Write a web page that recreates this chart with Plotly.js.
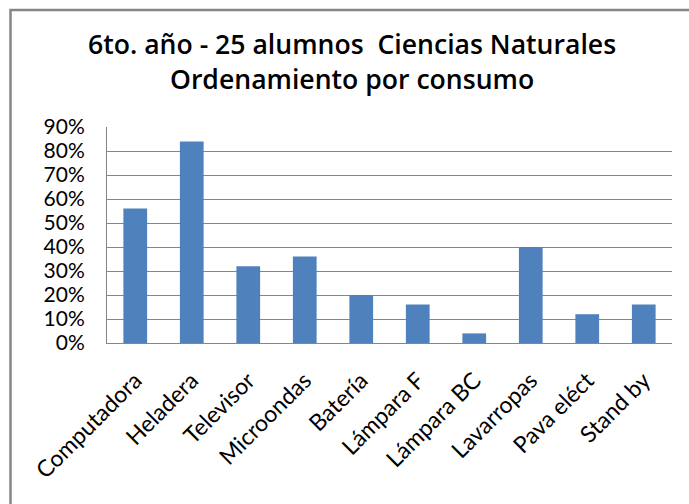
<!DOCTYPE html>
<html>
<head>
<meta charset="utf-8">
<script src="https://cdn.plot.ly/plotly-3.0.1.min.js"></script>
<style>html,body{margin:0;padding:0;background:#fff;}#chart{width:689px;height:504px;}</style>
</head>
<body>
<div id="chart"></div>
<script>
const categories = ["Computadora", "Heladera", "Televisor", "Microondas", "Batería", "Lámpara F", "Lámpara BC", "Lavarropas", "Pava eléct", "Stand by"];
const values = [0.56, 0.84, 0.32, 0.36, 0.20, 0.16, 0.04, 0.40, 0.12, 0.16];
const yTickVals = [0, 0.1, 0.2, 0.3, 0.4, 0.5, 0.6, 0.7, 0.8, 0.9];
const yTickText = ["0%", "10%", "20%", "30%", "40%", "50%", "60%", "70%", "80%", "90%"];
const titleText = "6to. año - 25 alumnos  Ciencias Naturales<br>Ordenamiento por consumo";

const font = "Lato, 'Open Sans', 'Liberation Sans', sans-serif";
const titleFont = "'Open Sans', Lato, sans-serif";

Plotly.newPlot("chart", [{
  type: "bar",
  x: categories,
  y: values,
  marker: {color: "#4f81bd"},
  width: 0.42,
  hoverinfo: "none"
}], {
  width: 689,
  height: 504,
  margin: {l: 107, r: 17, t: 127, b: 161},
  paper_bgcolor: "#ffffff",
  plot_bgcolor: "#ffffff",
  showlegend: false,
  title: {
    text: titleText,
    font: {family: titleFont, size: 26.6, color: "#000000", weight: 600},
    x: 0.511, xanchor: "center",
    y: 0.892, yanchor: "middle"
  },
  xaxis: {
    type: "category",
    tickangle: -45,
    tickfont: {family: font, size: 23, color: "#000000"},
    ticklabelstandoff: 14,
    showgrid: false,
    showline: true,
    linecolor: "#868686",
    linewidth: 1,
    ticks: "",
    fixedrange: true
  },
  yaxis: {
    range: [0, 0.9],
    tickvals: yTickVals,
    ticktext: yTickText,
    tickfont: {family: font, size: 21, color: "#000000"},
    ticklabelstandoff: 17,
    showgrid: true,
    gridcolor: "#868686",
    gridwidth: 1,
    showline: true,
    linecolor: "#868686",
    linewidth: 1,
    zeroline: false,
    ticks: "",
    ticklen: 0,
    fixedrange: true
  },
  shapes: [{
    type: "rect", xref: "paper", yref: "paper",
    x0: -0.1708, x1: 1.2, y0: -0.9, y1: 1.5417,
    line: {color: "#868686", width: 2.5},
    fillcolor: "rgba(0,0,0,0)",
    layer: "above"
  }]
}, {displayModeBar: false, staticPlot: true});
</script>
</body>
</html>
